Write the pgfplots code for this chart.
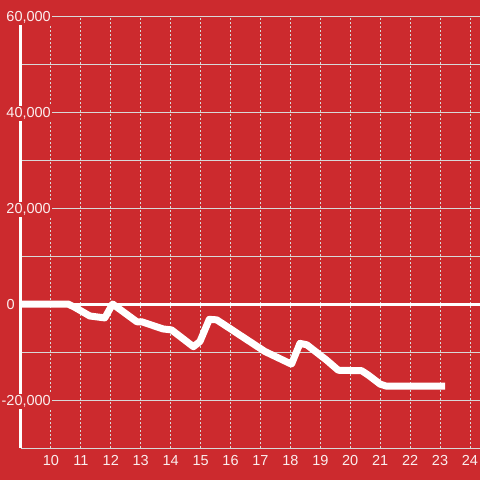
\documentclass[border=0pt]{standalone}
\usepackage{pgfplots}
\pgfplotsset{compat=1.18}
\usepackage{fontspec}
\setmainfont{Liberation Sans}
\definecolor{bg}{HTML}{CC2A2E}
\definecolor{gridc}{HTML}{D8D8D8}
\colorlet{lbl}{white!92!bg}
\begin{document}
\begin{tikzpicture}[x=1pt,y=1pt]
\fill[bg] (0,0) rectangle (480,480);
\useasboundingbox (0,0) rectangle (480,480);
\begin{axis}[
 at={(21pt,32pt)}, anchor=south west,
 scale only axis, width=459pt, height=432pt,
 xmin=9, xmax=24.335, ymin=-30000, ymax=60000,
 scaled y ticks=false,
 axis x line=bottom, axis y line=left,
 x axis line style={-, gridc, line width=0.9pt},
 y axis line style={-, white, line width=3pt},
 xtick={10,...,24},
 ytick={-20000,20000,40000,60000},
 yticklabels={{-20,000},{20,000},{40,000},{60,000}},
 minor ytick={-10000,10000,30000,50000},
 major tick length=0pt, minor tick length=0pt,
 xmajorgrids, ymajorgrids, yminorgrids,
 major x grid style={gridc, line width=0.9pt, dash pattern=on 2pt off 2pt},
 major y grid style={gridc, line width=0.9pt},
 minor y grid style={gridc, line width=0.9pt},
 tick label style={font=\fontsize{14.5}{16}\selectfont, text=lbl},
 xticklabel style={anchor=base, yshift=-18pt},
 yticklabel style={anchor=base east, xshift=31.5pt, yshift=-5.2pt, fill=bg, inner sep=1.5pt},
 /pgf/number format/assume math mode=true,
 extra y ticks={0}, extra y tick labels={0},
 extra y tick style={yticklabel style={fill=none, xshift=-36pt}, grid=none},
]
\addplot[white, line width=3pt, forget plot] coordinates {(8.8,0) (24.4,0)};
\addplot[white, line width=7pt, line join=round] coordinates {
(9,0) (10.57,0) (10.8,-700) (11.3,-2500) (11.8,-2900) (12.06,0)
(12.87,-3700) (13.03,-3700) (13.75,-5200) (14.03,-5400) (14.76,-8900)
(14.98,-7800) (15.29,-3200) (15.54,-3300) (15.98,-5100) (16.32,-6500)
(17.15,-9900) (17.99,-12400) (18.04,-12500) (18.32,-8200) (18.55,-8500)
(19.21,-11700) (19.6,-13800) (20.38,-13900) (20.6,-14800) (21.0,-16700)
(21.2,-17100) (23.17,-17100)};
\end{axis}
\end{tikzpicture}
\end{document}
